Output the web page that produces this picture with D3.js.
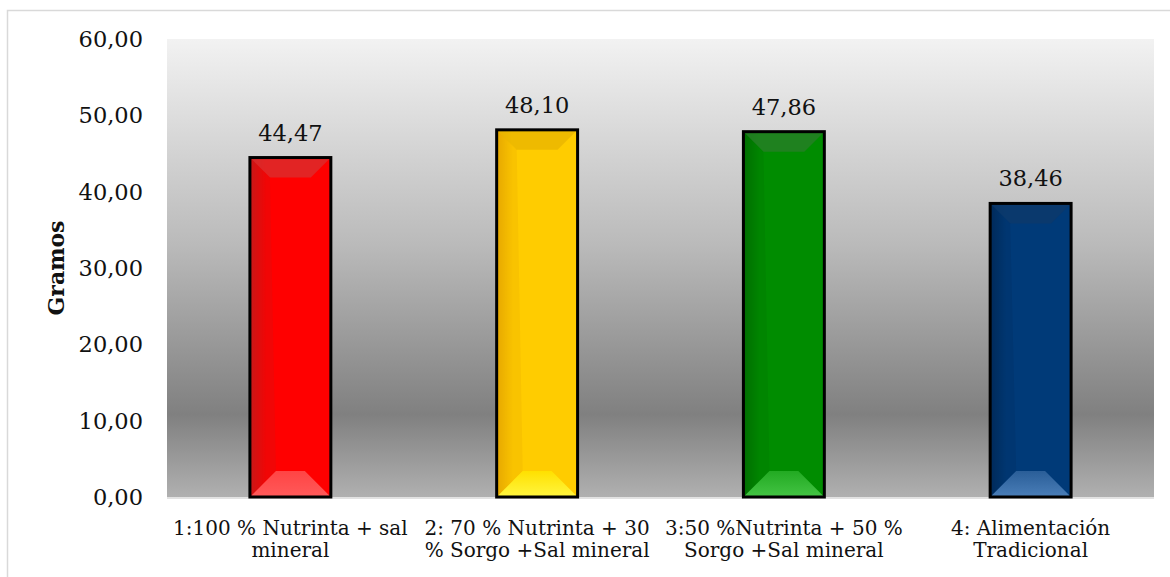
<!DOCTYPE html>
<html><head><meta charset="utf-8">
<script src="https://cdn.jsdelivr.net/npm/d3@7"></script>
<style>html,body{margin:0;padding:0;background:#fff;}svg{display:block;}</style>
</head><body>
<svg id="c" width="1170" height="577"></svg>
<script>
const categories = [
  ["1:100 % Nutrinta + sal", "mineral"],
  ["2: 70 % Nutrinta + 30", "% Sorgo +Sal mineral"],
  ["3:50 %Nutrinta + 50 %", "Sorgo +Sal mineral"],
  ["4: Alimentación", "Tradicional"]
];
const values = [44.47, 48.10, 47.86, 38.46];
const yTicks = [0, 10, 20, 30, 40, 50, 60];
const yTitle = "Gramos";
const barColors = [
  {base:"#ff0000", dark:"#c81818", top:"#d83030", light:"#ff4444", lighter:"#ff5a5a"},
  {base:"#ffcc00", dark:"#e6a800", top:"#e8b400", light:"#ffe000", lighter:"#fff640"},
  {base:"#008c00", dark:"#006e00", top:"#2a7e2a", light:"#22aa22", lighter:"#44c444"},
  {base:"#003a78", dark:"#002a5a", top:"#0d3a6a", light:"#2a5e98", lighter:"#4a7eb8"}
];

const svg = d3.select("#c");
const fmt = v => d3.format(".2f")(v).replace(".", ",");
const L = 167, R = 1154, T = 39, B = 497;

svg.append("rect").attr("x",7.5).attr("y",10.5).attr("width",1170).attr("height",580)
  .attr("fill","none").attr("stroke","#d9d9d9").attr("stroke-width",1.5);

const defs = svg.append("defs");
const bg = defs.append("linearGradient").attr("id","bg").attr("x1",0).attr("y1",0).attr("x2",0).attr("y2",1);
[[0,"#f2f2f2"],[0.45,"#bababa"],[0.82,"#808080"],[1,"#b0b0b0"]].forEach(s=>bg.append("stop").attr("offset",s[0]).attr("stop-color",s[1]));

const x = d3.scaleBand().domain(d3.range(categories.length)).range([L,R]).paddingInner(0.672).paddingOuter(0.336);
const y = d3.scaleLinear().domain([0,60]).range([B,T]);

svg.append("rect").attr("x",L).attr("y",T).attr("width",R-L).attr("height",B-T).attr("fill","url(#bg)");
svg.append("line").attr("x1",L).attr("x2",R).attr("y1",B+1).attr("y2",B+1).attr("stroke","#d9d9d9").attr("stroke-width",1.5);

barColors.forEach((c,i)=>{
  const g = defs.append("linearGradient").attr("id","side"+i).attr("x1",0).attr("x2",1).attr("y1",0).attr("y2",0);
  [[0,c.dark],[0.2,c.base],[0.75,c.base],[1,c.base]].forEach(s=>g.append("stop").attr("offset",s[0]).attr("stop-color",s[1]));
  const gb = defs.append("linearGradient").attr("id","bot"+i).attr("x1",0).attr("x2",0).attr("y1",0).attr("y2",1);
  [[0,c.light],[1,c.lighter]].forEach(s=>gb.append("stop").attr("offset",s[0]).attr("stop-color",s[1]));
});

const bars = svg.append("g").selectAll("g").data(values).join("g");
bars.each(function(v,i){
  const g = d3.select(this);
  const x0 = x(i), x1 = x(i)+x.bandwidth(), y0 = y(v), y1 = y(0);
  const c = barColors[i];
  g.append("rect").attr("x",x0).attr("y",y0).attr("width",x1-x0).attr("height",y1-y0).attr("fill","url(#side"+i+")");
  const bt = 20, bb = 26;
  g.append("polygon").attr("points",[[x0,y0],[x1,y0],[x1-bt,y0+bt],[x0+bt,y0+bt]].join(" "))
    .attr("fill",c.top).attr("opacity",0.75);
  g.append("polygon").attr("points",[[x0,y0],[x0+bt,y0+bt],[x0+bb,y1-bb],[x0,y1]].join(" "))
    .attr("fill",c.dark).attr("opacity",0.25);
  g.append("polygon").attr("points",[[x0,y1],[x1,y1],[x1-bb,y1-bb],[x0+bb,y1-bb]].join(" "))
    .attr("fill","url(#bot"+i+")");
  g.append("rect").attr("x",x0).attr("y",y0).attr("width",x1-x0).attr("height",y1-y0)
    .attr("fill","none").attr("stroke","#000").attr("stroke-width",3);
  g.append("text").attr("x",(x0+x1)/2).attr("y",y0-17).attr("text-anchor","middle")
    .attr("font-family","DejaVu Serif").attr("font-size",22.5).attr("fill","#111").text(fmt(v));
});

svg.append("g").selectAll("text").data(yTicks).join("text")
  .attr("x",143).attr("y",d=>y(d)+8).attr("text-anchor","end")
  .attr("font-family","DejaVu Serif").attr("font-size",22.5).attr("fill","#111").text(fmt);

const xl = svg.append("g").selectAll("text").data(categories).join("text")
  .attr("text-anchor","middle").attr("font-family","DejaVu Serif").attr("font-size",20).attr("fill","#111");
xl.each(function(lines,i){
  const t = d3.select(this);
  lines.forEach((ln,j)=>t.append("tspan").attr("x",x(i)+x.bandwidth()/2).attr("y",535+j*22).text(ln));
});

svg.append("text").attr("transform","translate(64,268) rotate(-90)").attr("text-anchor","middle")
  .attr("font-family","DejaVu Serif").attr("font-weight","bold").attr("font-size",22).attr("fill","#111").text(yTitle);
</script>
</body></html>
